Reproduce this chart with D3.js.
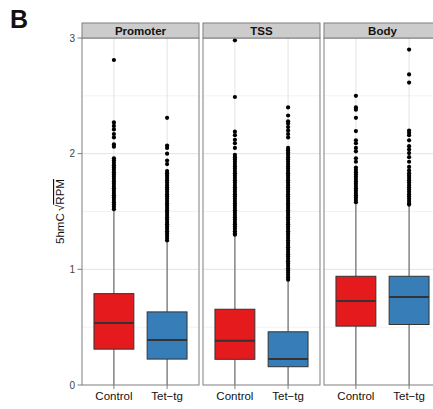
<!DOCTYPE html>
<html>
<head>
<meta charset="utf-8">
<script src="https://cdn.jsdelivr.net/npm/d3@7"></script>
<style>
  html, body { margin: 0; padding: 0; background: #fff; }
  svg { display: block; font-family: "Liberation Sans", Arial, Helvetica, sans-serif; }
</style>
</head>
<body>
<svg id="chart" width="433" height="409"></svg>
<script>
// Facets and groups
const panels = ["Promoter", "TSS", "Body"];
const groups = ["Control", "Tet\u2212tg"];
const groupColors = ["#E41A1C", "#377EB8"];
const yTicks = [0, 1, 2, 3];

// Box statistics, indexed [panel][group]
const lowerWhisker = [[0, 0], [0, 0], [0, 0]];
const q1 = [[0.31, 0.224], [0.222, 0.158], [0.509, 0.523]];
const median = [[0.537, 0.388], [0.382, 0.224], [0.727, 0.76]];
const q3 = [[0.79, 0.632], [0.655, 0.46], [0.94, 0.94]];
const upperWhisker = [[1.51, 1.235], [1.29, 0.905], [1.575, 1.555]];

// Outlying points per panel/group
const outPromoterControl = [2.81, 2.27, 2.24, 2.21, 2.17, 2.14, 2.08, 2.06,
  1.96, 1.94, 1.92, 1.90, 1.88, 1.86, 1.84, 1.82, 1.80, 1.78, 1.76, 1.74, 1.72,
  1.70, 1.68, 1.66, 1.64, 1.62, 1.60, 1.58, 1.56, 1.54, 1.52];
const outPromoterTet = [2.31, 2.07, 2.05, 2.00, 1.94, 1.91,
  1.85, 1.83, 1.81, 1.79, 1.77, 1.75, 1.73, 1.71, 1.69, 1.67, 1.65, 1.63, 1.61,
  1.59, 1.57, 1.55, 1.53, 1.51, 1.49, 1.47, 1.45, 1.43, 1.41, 1.39, 1.37, 1.35,
  1.33, 1.31, 1.29, 1.27, 1.25];
const outTssControl = [2.98, 2.49, 2.19, 2.16, 2.12, 2.09, 2.05,
  1.99, 1.97, 1.95, 1.93, 1.91, 1.89, 1.87, 1.85, 1.83, 1.81, 1.79, 1.77, 1.75,
  1.73, 1.71, 1.69, 1.67, 1.65, 1.63, 1.61, 1.59, 1.57, 1.55, 1.53, 1.51, 1.49,
  1.47, 1.45, 1.43, 1.41, 1.39, 1.37, 1.35, 1.33, 1.31, 1.30];
const outTssTet = [2.40, 2.33, 2.28, 2.26, 2.23, 2.20, 2.17, 2.14,
  2.05, 2.03, 2.01, 1.99, 1.97, 1.95, 1.93, 1.91, 1.89, 1.87, 1.85, 1.83, 1.81,
  1.79, 1.77, 1.75, 1.73, 1.71, 1.69, 1.67, 1.65, 1.63, 1.61, 1.59, 1.57, 1.55,
  1.53, 1.51, 1.49, 1.47, 1.45, 1.43, 1.41, 1.39, 1.37, 1.35, 1.33, 1.31, 1.29,
  1.27, 1.25, 1.23, 1.21, 1.19, 1.17, 1.15, 1.13, 1.11, 1.09, 1.07, 1.05, 1.03,
  1.01, 0.99, 0.97, 0.95, 0.93, 0.91];
const outBodyControl = [2.50, 2.40, 2.38, 2.31, 2.195, 2.115, 2.09, 2.05, 2.02,
  1.96, 1.93, 1.88, 1.86, 1.84, 1.82, 1.80, 1.78, 1.76, 1.74, 1.72, 1.70, 1.68,
  1.66, 1.64, 1.62, 1.60, 1.58];
const outBodyTet = [2.90, 2.685, 2.615, 2.20, 2.18, 2.16, 2.115, 2.065, 2.035,
  2.005, 1.97, 1.93, 1.885, 1.855, 1.83, 1.81, 1.79, 1.77, 1.75, 1.73, 1.71,
  1.69, 1.67, 1.65, 1.63, 1.61, 1.59, 1.57, 1.56];
const outliers = [
  [outPromoterControl, outPromoterTet],
  [outTssControl, outTssTet],
  [outBodyControl, outBodyTet]
];

const svg = d3.select("#chart");
const plotTop = 38, plotBottom = 385;

const y = d3.scaleLinear().domain([0, 3]).range([plotBottom, plotTop]);
const panelX = d3.scaleBand().domain(panels).range([82, 441])
  .paddingInner(0.033).paddingOuter(0);
const pw = panelX.bandwidth();
const x = d3.scalePoint().domain(groups).range([0, pw]).padding(0.6);
const boxW = x.step() * 0.75;

// Panel label
svg.append("text").attr("x", 10).attr("y", 28)
  .attr("font-size", 25).attr("font-weight", "bold").attr("fill", "#111")
  .text("B");

// Y axis title with radical sign and overline
const yTitle = svg.append("text")
  .attr("transform", `translate(64,${(plotTop + plotBottom) / 2}) rotate(-90)`)
  .attr("text-anchor", "middle").attr("font-size", 11.5).attr("fill", "#111");
yTitle.append("tspan").text("5hmC\u2009\u221A");
yTitle.append("tspan").style("text-decoration", "overline").text("RPM");

// Y ticks and labels
const yAxis = svg.append("g");
yAxis.selectAll("line").data(yTicks).join("line")
  .attr("x1", 77.5).attr("x2", 82)
  .attr("y1", d => y(d)).attr("y2", d => y(d))
  .attr("stroke", "#7f7f7f").attr("stroke-width", 1);
yAxis.selectAll("text").data(yTicks).join("text")
  .attr("x", 75).attr("y", d => y(d)).attr("dy", "0.35em")
  .attr("text-anchor", "end").attr("font-size", 10).attr("fill", "#444")
  .text(d => d);

panels.forEach((p, pi) => {
  const g = svg.append("g").attr("transform", `translate(${panelX(p)},0)`);

  // background
  g.append("rect").attr("x", 0).attr("y", plotTop).attr("width", pw)
    .attr("height", plotBottom - plotTop).attr("fill", "#fff");

  // minor grid
  g.selectAll("line.minor").data([0.5, 1.5, 2.5]).join("line")
    .attr("x1", 0).attr("x2", pw).attr("y1", d => y(d)).attr("y2", d => y(d))
    .attr("stroke", "#f2f2f2").attr("stroke-width", 1);
  // major grid
  g.selectAll("line.major").data([1, 2]).join("line")
    .attr("x1", 0).attr("x2", pw).attr("y1", d => y(d)).attr("y2", d => y(d))
    .attr("stroke", "#e3e3e3").attr("stroke-width", 1);
  g.selectAll("line.vmajor").data(groups).join("line")
    .attr("x1", d => x(d)).attr("x2", d => x(d))
    .attr("y1", plotTop).attr("y2", plotBottom)
    .attr("stroke", "#e3e3e3").attr("stroke-width", 1);

  groups.forEach((gr, gi) => {
    const cx = x(gr);
    // whiskers
    g.append("line").attr("x1", cx).attr("x2", cx)
      .attr("y1", y(q3[pi][gi])).attr("y2", y(upperWhisker[pi][gi]))
      .attr("stroke", "#555").attr("stroke-width", 1);
    g.append("line").attr("x1", cx).attr("x2", cx)
      .attr("y1", y(q1[pi][gi])).attr("y2", y(lowerWhisker[pi][gi]))
      .attr("stroke", "#555").attr("stroke-width", 1);
    // box
    g.append("rect").attr("x", cx - boxW / 2).attr("y", y(q3[pi][gi]))
      .attr("width", boxW).attr("height", y(q1[pi][gi]) - y(q3[pi][gi]))
      .attr("fill", groupColors[gi]).attr("stroke", "#333").attr("stroke-width", 1);
    // median
    g.append("line").attr("x1", cx - boxW / 2).attr("x2", cx + boxW / 2)
      .attr("y1", y(median[pi][gi])).attr("y2", y(median[pi][gi]))
      .attr("stroke", "#333").attr("stroke-width", 2);
    // outliers
    g.selectAll(null).data(outliers[pi][gi]).join("circle")
      .attr("cx", cx).attr("cy", d => y(d)).attr("r", 2.1)
      .attr("fill", "#000");
    // x tick + label
    g.append("line").attr("x1", cx).attr("x2", cx)
      .attr("y1", plotBottom).attr("y2", plotBottom + 4)
      .attr("stroke", "#7f7f7f");
    g.append("text").attr("x", cx).attr("y", 400)
      .attr("text-anchor", "middle").attr("font-size", 11.5).attr("fill", "#111")
      .text(gr);
  });

  // panel border
  g.append("rect").attr("x", 0).attr("y", plotTop).attr("width", pw)
    .attr("height", plotBottom - plotTop)
    .attr("fill", "none").attr("stroke", "#7f7f7f").attr("stroke-width", 1);

  // strip
  g.append("rect").attr("x", 0).attr("y", 23).attr("width", pw).attr("height", plotTop - 23)
    .attr("fill", "#cccccc").attr("stroke", "#7f7f7f").attr("stroke-width", 1);
  g.append("text").attr("x", pw / 2).attr("y", 34.5)
    .attr("text-anchor", "middle").attr("font-size", 11.5).attr("font-weight", "bold")
    .attr("fill", "#111").text(p);
});
</script>
</body>
</html>
